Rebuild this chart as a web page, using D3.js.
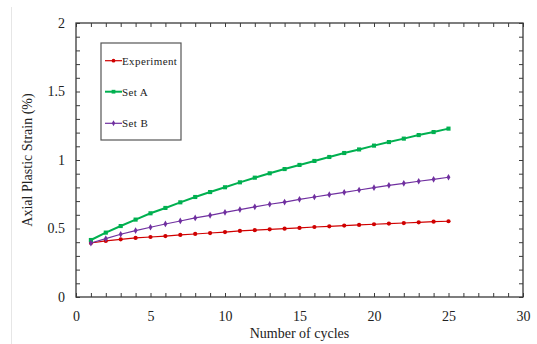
<!DOCTYPE html>
<html>
<head>
<meta charset="utf-8">
<script src="https://cdn.jsdelivr.net/npm/d3@7"></script>
<style>
  body { margin: 0; background: #fff; }
  svg { display: block; font-family: "Liberation Serif", "DejaVu Serif", serif; }
</style>
</head>
<body>
<svg></svg>
<script>
// cycles 1..25
const cycles = [1,2,3,4,5,6,7,8,9,10,11,12,13,14,15,16,17,18,19,20,21,22,23,24,25];
const experiment = [0.394,0.409,0.421,0.431,0.438,0.445,0.453,0.460,0.467,0.474,0.482,0.488,0.494,0.499,0.504,0.511,0.516,0.521,0.526,0.531,0.536,0.540,0.545,0.550,0.553];
const setA = [0.416,0.470,0.518,0.565,0.611,0.650,0.691,0.730,0.766,0.801,0.837,0.871,0.903,0.934,0.964,0.993,1.022,1.051,1.077,1.105,1.131,1.156,1.182,1.204,1.229];
const setB = [0.394,0.426,0.458,0.485,0.509,0.533,0.555,0.577,0.596,0.618,0.638,0.658,0.677,0.693,0.713,0.730,0.747,0.764,0.781,0.798,0.815,0.830,0.845,0.859,0.874];
const xTicks = [0,5,10,15,20,25,30];
const yTicks = [0,0.5,1,1.5,2];

const svgWidth = 537;
const svgHeight = 344;
const svg = d3.select("svg").attr("width", svgWidth).attr("height", svgHeight);

const margin = {top: 23, right: 14, bottom: 47, left: 76};
const width = svgWidth - margin.left - margin.right;
const height = svgHeight - margin.top - margin.bottom;

// faint frame line on the left of the picture
svg.append("line")
    .attr("x1", 11.5).attr("x2", 11.5).attr("y1", 7).attr("y2", svgHeight)
    .attr("stroke", "#e6e6e6");

const g = svg.append("g").attr("transform", "translate(" + margin.left + "," + margin.top + ")");

const x = d3.scaleLinear().domain([0, 30]).range([0, width]);
const y = d3.scaleLinear().domain([0, 2]).range([height, 0]);

const axisColor = "#3a3a3a";
const minorX = d3.range(0, 31, 1);
const minorY = d3.range(0, 21, 1).map(d => d / 10);

function styleAxis(sel) {
    sel.attr("font-family", null);
    sel.select(".domain").remove();
    sel.selectAll(".tick line").attr("stroke", axisColor);
    sel.selectAll("text").attr("fill", "#222").style("font-size", "14px");
}

// minor ticks (all four sides, inward)
g.append("g").attr("transform", "translate(0," + height + ")")
    .call(d3.axisBottom(x).tickValues(minorX).tickSize(-4).tickFormat(""))
    .call(styleAxis);
g.append("g")
    .call(d3.axisTop(x).tickValues(minorX).tickSize(-4).tickFormat(""))
    .call(styleAxis);
g.append("g")
    .call(d3.axisLeft(y).tickValues(minorY).tickSize(-4).tickFormat(""))
    .call(styleAxis);
g.append("g").attr("transform", "translate(" + width + ",0)")
    .call(d3.axisRight(y).tickValues(minorY).tickSize(-4).tickFormat(""))
    .call(styleAxis);

// labels
g.append("g").attr("transform", "translate(0," + height + ")")
    .call(d3.axisBottom(x).tickValues(xTicks).tickSize(0).tickPadding(14).tickFormat(d3.format("d")))
    .call(styleAxis);
g.append("g")
    .call(d3.axisLeft(y).tickValues(yTicks).tickSize(0).tickPadding(11).tickFormat(d => d))
    .call(styleAxis);

// plot frame
g.append("rect")
    .attr("width", width).attr("height", height)
    .attr("fill", "none").attr("stroke", axisColor).attr("stroke-width", 1.3);

// series
const series = [
    {name: "Experiment", values: experiment, color: "#d00000", width: 1.2, shape: d3.symbolCircle, size: 14},
    {name: "Set A", values: setA, color: "#00b050", width: 2, shape: d3.symbolSquare, size: 17},
    {name: "Set B", values: setB, color: "#7030a0", width: 1.2, shape: d3.symbolDiamond, size: 13}
];

const line = d3.line()
    .x((d, i) => x(cycles[i]))
    .y(d => y(d));

series.forEach(s => {
    g.append("path")
        .datum(s.values)
        .attr("fill", "none")
        .attr("stroke", s.color)
        .attr("stroke-width", s.width)
        .attr("d", line);
    g.append("g").selectAll("path")
        .data(s.values)
        .join("path")
        .attr("transform", (d, i) => "translate(" + x(cycles[i]) + "," + y(d) + ")")
        .attr("d", d3.symbol(s.shape, s.size))
        .attr("fill", s.color);
});

// legend
const legend = svg.append("g").attr("transform", "translate(101,43)");
legend.append("rect")
    .attr("width", 80).attr("height", 97)
    .attr("fill", "#fff").attr("stroke", "#555").attr("stroke-width", 1.2);
const rows = [17.7, 48.7, 80.3];
series.forEach((s, i) => {
    const row = legend.append("g").attr("transform", "translate(0," + rows[i] + ")");
    row.append("line").attr("x1", 4).attr("x2", 21)
        .attr("stroke", s.color).attr("stroke-width", s.width);
    row.append("path").attr("transform", "translate(12.5,0)")
        .attr("d", d3.symbol(s.shape, s.size - 3)).attr("fill", s.color);
    row.append("text").attr("x", 21).attr("dy", "0.35em")
        .style("font-size", "11px").style("letter-spacing", "0.4px")
        .attr("fill", "#222").text(s.name);
});

// axis titles
svg.append("text")
    .attr("x", margin.left + width / 2).attr("y", 338)
    .attr("text-anchor", "middle").style("font-size", "14px").attr("fill", "#222")
    .text("Number of cycles");
svg.append("text")
    .attr("transform", "translate(32," + (margin.top + height / 2) + ") rotate(-90)")
    .attr("text-anchor", "middle").style("font-size", "14px").attr("fill", "#222")
    .text("Axial Plastic Strain (%)");
</script>
</body>
</html>
